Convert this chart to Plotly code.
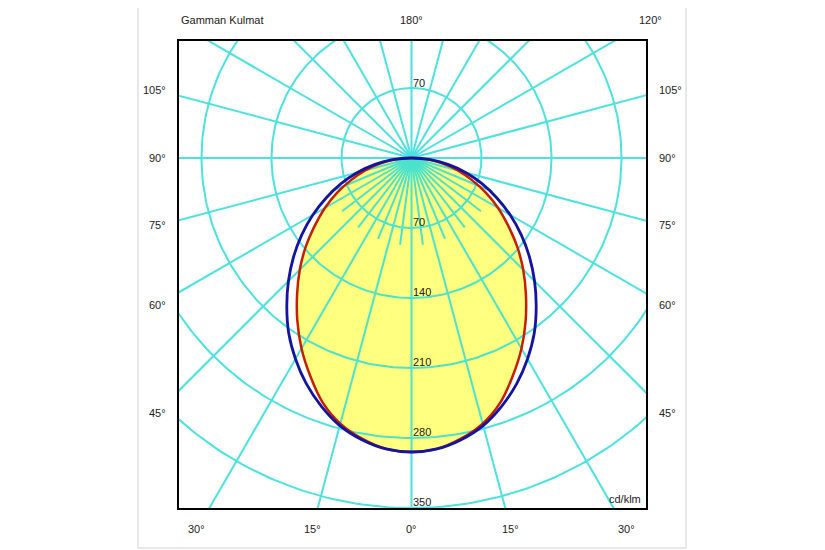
import numpy as np
import plotly.graph_objects as go

# ---- data (cd/klm) ----
gamma = [0, 5, 10, 15, 20, 25, 30, 35, 40, 45, 50, 55, 60, 65, 70, 75, 80, 85, 90]
c0_c180 = [294, 292, 285, 275, 260, 240, 220, 199, 178, 158, 138, 118, 100, 82, 64, 48, 32, 16, 0]   # red
c90_c270 = [294, 292, 286, 277, 264, 249, 232, 214, 194, 174, 154, 134, 114, 94, 75, 56, 37, 19, 0]  # blue

rings = [70, 140, 210, 280, 350]
ring_labels_lower = ["70", "140", "210", "280", "350"]
spokes = list(range(0, 360, 15))
fine_spokes = [7.5, 22.5, 37.5, 52.5, 67.5]
fine_len = 87.5

side_labels = ["105°", "90°", "75°", "60°", "45°"]
side_label_y = [0.8951, 0.7495, 0.606, 0.4347, 0.2034]
bottom_labels = ["30°", "15°", "0°", "15°", "30°"]
bottom_label_x = [0.0385, 0.2869, 0.4979, 0.7109, 0.9572]

GRID = "rgb(45,222,218)"
TXT = "#222222"
FONT = "Arial, Liberation Sans, sans-serif"


def to_xy(g_deg, r):
    g = np.radians(np.asarray(g_deg, dtype=float))
    r = np.asarray(r, dtype=float)
    return r * np.sin(g), -r * np.cos(g)


def full_curve(vals):
    g = [-a for a in gamma[::-1]] + gamma[1:]
    r = vals[::-1] + vals[1:]
    return to_xy(g, r)


fig = go.Figure()

rx, ry = full_curve(c0_c180)
bx, by = full_curve(c90_c270)

# yellow fill of the C0-C180 curve
fig.add_trace(go.Scatter(x=rx, y=ry, mode="lines", fill="toself",
                         fillcolor="rgb(255,255,128)",
                         line=dict(color="rgba(0,0,0,0)", width=0, shape="spline"),
                         hoverinfo="skip", showlegend=False))

# grid: rings and spokes
gx, gy = [], []
for rv in rings:
    t = np.linspace(0, 360, 361)
    x, y = to_xy(t, np.full_like(t, rv))
    gx += list(x) + [None]
    gy += list(y) + [None]
for a in spokes:
    x, y = to_xy([a, a], [0, 800])
    gx += list(x) + [None]
    gy += list(y) + [None]
for a in fine_spokes:
    for s in (1, -1):
        x, y = to_xy([s * a, s * a], [0, fine_len])
        gx += list(x) + [None]
        gy += list(y) + [None]
fig.add_trace(go.Scatter(x=gx, y=gy, mode="lines", line=dict(color=GRID, width=2),
                         opacity=0.85, hoverinfo="skip", showlegend=False))

fig.add_trace(go.Scatter(x=rx, y=ry, mode="lines",
                         line=dict(color="rgb(200,30,0)", width=2.5, shape="spline"),
                         name="C0-C180", showlegend=False))
fig.add_trace(go.Scatter(x=bx, y=by, mode="lines",
                         line=dict(color="rgb(20,20,160)", width=2.8, shape="spline"),
                         name="C90-C270", showlegend=False))

ann = []


def P(text, x, y, xanchor="center"):
    ann.append(dict(text=text, x=x, y=y, xref="paper", yref="paper", showarrow=False,
                    xanchor=xanchor, yanchor="middle",
                    font=dict(family=FONT, size=11, color=TXT)))


def D(text, x, y):
    ann.append(dict(text=text, x=x, y=y, xref="x", yref="y", showarrow=False,
                    xanchor="left", yanchor="middle",
                    font=dict(family=FONT, size=11, color=TXT)))


P("Gamman Kulmat", 0.0, 1.0439, "left")
P("180°", 0.4989, 1.0439)
P("120°", 1.0086, 1.0439)
for t, y in zip(side_labels, side_label_y):
    P(t, -0.0236, y, "right")
    P(t, 1.0236, y, "left")
for t, x in zip(bottom_labels, bottom_label_x):
    P(t, x, -0.045)
P("cd/klm", 0.9936, 0.0193, "right")
D("70", -1, 75)
for t, rv in zip(ring_labels_lower, rings):
    D(t, -1, -rv + 6)

fig.update_layout(
    width=825, height=550,
    margin=dict(l=171, r=187, t=33, b=50),
    paper_bgcolor="white", plot_bgcolor="white",
    annotations=ann,
    shapes=[dict(type="rect", xref="paper", yref="paper",
                 x0=-0.0878, x1=1.0857, y0=-0.0857, y1=1.0857,
                 line=dict(color="#d0d0d0", width=1), layer="below")],
    xaxis=dict(range=[-232.5, 234.5], showgrid=False, zeroline=False, showticklabels=False,
               ticks="", showline=True, mirror=True, linecolor="black", linewidth=2, fixedrange=True),
    yaxis=dict(range=[-350, 117], showgrid=False, zeroline=False, showticklabels=False,
               ticks="", showline=True, mirror=True, linecolor="black", linewidth=2, fixedrange=True),
)

fig.write_html("out.html")
